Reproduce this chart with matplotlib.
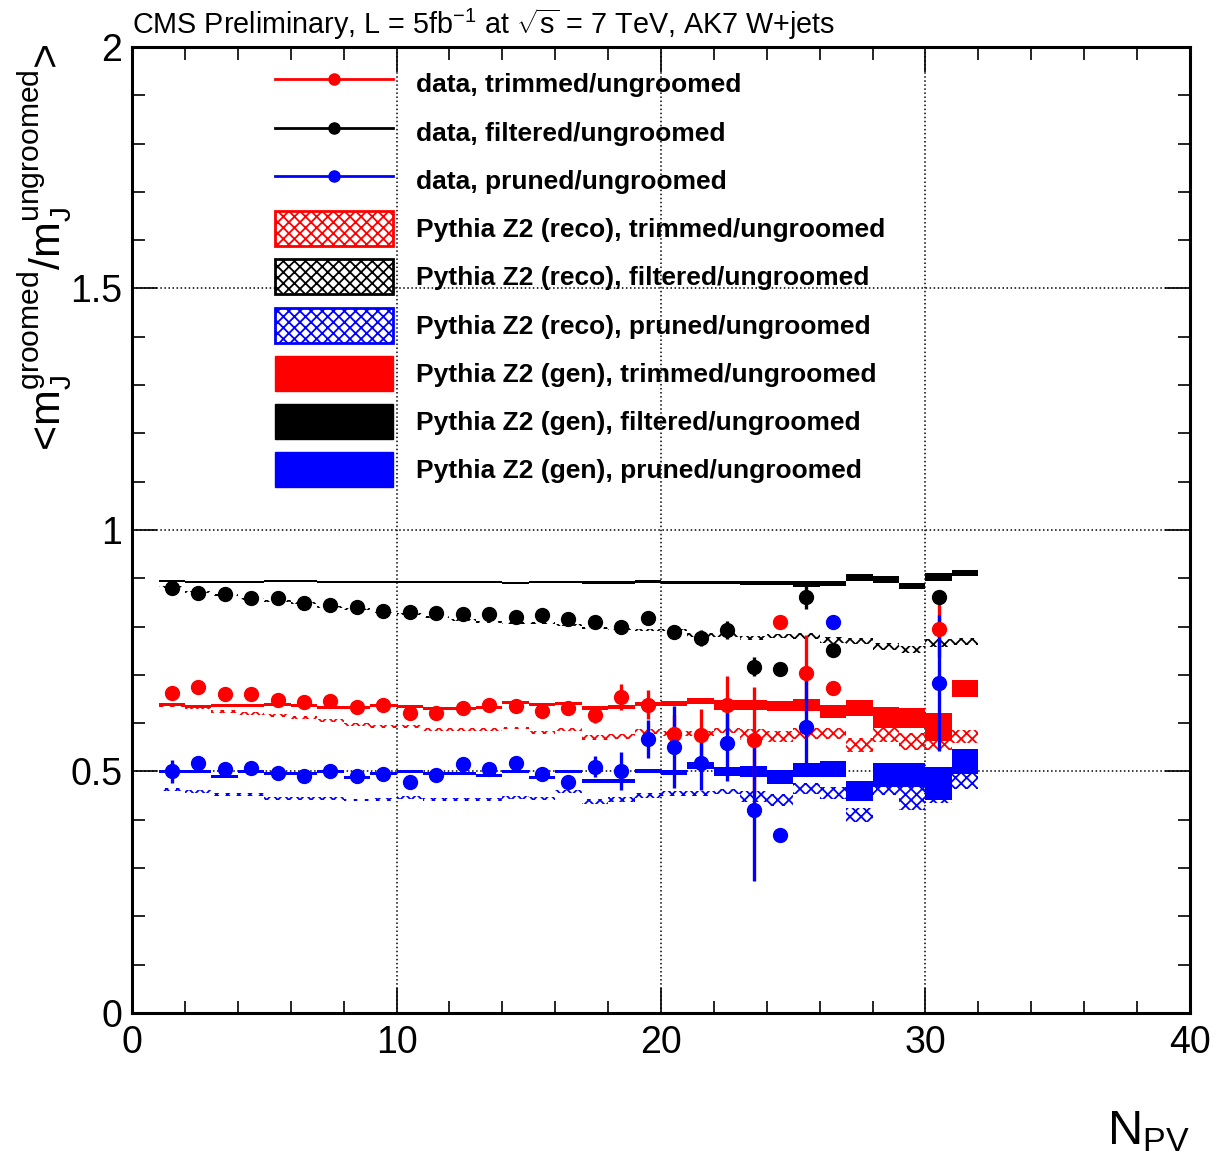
import numpy as np
import matplotlib
matplotlib.use("Agg")
import matplotlib.pyplot as plt
from matplotlib.lines import Line2D
from matplotlib.patches import Patch

# -----------------------------------------
# groomed / ungroomed jet mass vs N_PV
# -----------------------------------------
bin_lo = np.arange(1, 32)          # bins [1,2) ... [31,32)
bin_mid = bin_lo + 0.5

# data (NaN = empty bin)
data_trim = [0.662, 0.674, 0.660, 0.660, 0.648, 0.643, 0.645, 0.634, 0.638, 0.622,
             0.621, 0.631, 0.638, 0.636, 0.626, 0.631, 0.617, 0.655, 0.638, 0.577,
             0.576, 0.638, 0.565, 0.810, 0.703, 0.672, np.nan, np.nan, np.nan, 0.796, np.nan]
data_trim_err = [0.010, 0.006, 0.006, 0.006, 0.006, 0.006, 0.006, 0.006, 0.006, 0.006,
                 0.006, 0.006, 0.006, 0.006, 0.008, 0.008, 0.017, 0.027, 0.030, 0.040,
                 0.053, 0.060, 0.110, 0.0, 0.080, 0.0, np.nan, np.nan, np.nan, 0.060, np.nan]

data_filt = [0.879, 0.869, 0.867, 0.860, 0.859, 0.848, 0.845, 0.840, 0.833, 0.830,
             0.829, 0.826, 0.827, 0.820, 0.824, 0.815, 0.810, 0.800, 0.817, 0.789,
             0.776, 0.793, 0.717, 0.712, 0.862, 0.752, np.nan, np.nan, np.nan, 0.861, np.nan]
data_filt_err = [0.004, 0.004, 0.004, 0.004, 0.004, 0.004, 0.004, 0.004, 0.004, 0.004,
                 0.004, 0.004, 0.005, 0.005, 0.005, 0.006, 0.006, 0.008, 0.008, 0.010,
                 0.017, 0.018, 0.020, 0.0, 0.025, 0.0, np.nan, np.nan, np.nan, 0.010, np.nan]

data_prun = [0.500, 0.517, 0.505, 0.507, 0.496, 0.491, 0.501, 0.491, 0.495, 0.479,
             0.493, 0.516, 0.505, 0.518, 0.495, 0.479, 0.510, 0.501, 0.567, 0.551,
             0.517, 0.560, 0.420, 0.369, 0.593, 0.810, np.nan, np.nan, np.nan, 0.683, np.nan]
data_prun_err = [0.023, 0.006, 0.006, 0.006, 0.006, 0.006, 0.006, 0.006, 0.006, 0.006,
                 0.006, 0.006, 0.006, 0.006, 0.012, 0.008, 0.022, 0.040, 0.040, 0.085,
                 0.055, 0.080, 0.147, 0.0, 0.100, 0.0, np.nan, np.nan, np.nan, 0.140, np.nan]

# Pythia Z2 reco level
reco_trim = [0.636, 0.633, 0.624, 0.620, 0.615, 0.611, 0.605, 0.598, 0.593, 0.594,
             0.586, 0.586, 0.587, 0.590, 0.580, 0.586, 0.571, 0.572, 0.582, 0.579,
             0.579, 0.584, 0.576, 0.572, 0.579, 0.579, 0.555, 0.576, 0.562, 0.562, 0.572]
reco_trim_err = [0.003] * 16 + [0.005] * 6 + [0.011] * 4 + [0.015, 0.015, 0.017, 0.017, 0.014]

reco_filt = [0.882, 0.872, 0.866, 0.858, 0.852, 0.848, 0.841, 0.836, 0.831, 0.827,
             0.820, 0.814, 0.810, 0.808, 0.807, 0.803, 0.797, 0.795, 0.793, 0.793,
             0.783, 0.783, 0.776, 0.781, 0.781, 0.772, 0.770, 0.758, 0.752, 0.766, 0.769]
reco_filt_err = [0.002] * 16 + [0.003] * 4 + [0.004] * 4 + [0.006, 0.006, 0.007, 0.007, 0.007, 0.008, 0.007]

reco_prun = [0.463, 0.458, 0.453, 0.453, 0.444, 0.444, 0.444, 0.441, 0.442, 0.446,
             0.442, 0.442, 0.442, 0.446, 0.444, 0.458, 0.438, 0.442, 0.451, 0.455,
             0.455, 0.458, 0.448, 0.441, 0.465, 0.456, 0.410, 0.462, 0.444, 0.455, 0.479]
reco_prun_err = [0.003] * 16 + [0.005] * 6 + [0.012] * 4 + [0.015, 0.010, 0.024, 0.020, 0.015]

# Pythia Z2 gen level
gen_trim = [0.638, 0.634, 0.636, 0.636, 0.638, 0.636, 0.632, 0.632, 0.636, 0.634,
            0.631, 0.631, 0.633, 0.642, 0.638, 0.640, 0.631, 0.634, 0.640, 0.641,
            0.646, 0.638, 0.638, 0.636, 0.638, 0.624, 0.631, 0.612, 0.610, 0.593, 0.672]
gen_trim_err = [0.003] * 16 + [0.004, 0.004, 0.004, 0.005, 0.007, 0.010, 0.010, 0.010,
                               0.012, 0.014, 0.016, 0.021, 0.021, 0.029, 0.017]

gen_filt = [0.895, 0.893, 0.893, 0.893, 0.894, 0.894, 0.893, 0.893, 0.893, 0.893,
            0.892, 0.893, 0.892, 0.891, 0.892, 0.892, 0.892, 0.892, 0.893, 0.891,
            0.891, 0.891, 0.891, 0.891, 0.888, 0.889, 0.902, 0.898, 0.884, 0.903, 0.911]
gen_filt_err = [0.002] * 16 + [0.003] * 6 + [0.004, 0.004, 0.006, 0.006, 0.007, 0.007, 0.007, 0.008, 0.006]

gen_prun = [0.500, 0.500, 0.489, 0.500, 0.495, 0.495, 0.500, 0.488, 0.496, 0.500,
            0.496, 0.496, 0.491, 0.500, 0.488, 0.500, 0.481, 0.480, 0.501, 0.498,
            0.513, 0.500, 0.500, 0.489, 0.503, 0.505, 0.460, 0.493, 0.493, 0.476, 0.520]
gen_prun_err = [0.003] * 16 + [0.004, 0.004, 0.005, 0.005, 0.007, 0.009, 0.011, 0.014,
                               0.015, 0.017, 0.021, 0.025, 0.025, 0.034, 0.026]

RED, BLACK, BLUE = "#ff0000", "#000000", "#0000ff"
HATCH = "xxx"

plt.rcParams["font.family"] = ["Liberation Sans", "DejaVu Sans"]
plt.rcParams["mathtext.fontset"] = "custom"
plt.rcParams["mathtext.rm"] = "Liberation Sans"
plt.rcParams["mathtext.it"] = "Liberation Sans:italic"
plt.rcParams["mathtext.bf"] = "Liberation Sans:bold"
plt.rcParams["hatch.linewidth"] = 1.3

fig = plt.figure(figsize=(12.16, 11.51), dpi=100)
ax = fig.add_axes([0.1086, 0.1199, 0.8700, 0.8393])


def draw_band(vals, errs, color, hatched):
    v = np.asarray(vals)
    e = np.asarray(errs)
    if hatched:
        ax.bar(bin_lo, 2 * e, bottom=v - e, width=1.0, align="edge",
               fill=False, hatch=HATCH, edgecolor=color, linewidth=0, zorder=2)
    else:
        ax.bar(bin_lo, 2 * e, bottom=v - e, width=1.0, align="edge",
               color=color, linewidth=0, zorder=3)


# reco (hatched) first, gen boxes on top
draw_band(reco_trim, reco_trim_err, RED, True)
draw_band(reco_filt, reco_filt_err, BLACK, True)
draw_band(reco_prun, reco_prun_err, BLUE, True)
draw_band(gen_trim, gen_trim_err, RED, False)
draw_band(gen_filt, gen_filt_err, BLACK, False)
draw_band(gen_prun, gen_prun_err, BLUE, False)

for vals, errs, color in [(data_trim, data_trim_err, RED),
                          (data_filt, data_filt_err, BLACK),
                          (data_prun, data_prun_err, BLUE)]:
    ax.errorbar(bin_mid, vals, yerr=errs, fmt="o", color=color, ms=10,
                elinewidth=2.4, capsize=0, zorder=4)

ax.set_xlim(0, 40)
ax.set_ylim(0, 2)
ax.set_xticks([0, 10, 20, 30, 40])
ax.set_xticks(np.arange(0, 41, 2), minor=True)
ax.set_yticks([0, 0.5, 1, 1.5, 2])
ax.set_yticklabels(["0", "0.5", "1", "1.5", "2"])
ax.set_yticks(np.arange(0, 2.01, 0.1), minor=True)
ax.tick_params(which="both", direction="in", top=True, right=True, width=1.2,
               labelsize=27)
ax.tick_params(which="major", length=18)
ax.tick_params(which="minor", length=9)
ax.tick_params(axis="x", pad=9)
ax.tick_params(axis="y", pad=7)
ax.grid(True, which="major", linestyle=":", color="black", linewidth=1.1)
ax.set_axisbelow(True)
for sp in ax.spines.values():
    sp.set_linewidth(2.2)

ax.set_ylabel(r"<$\mathrm{m}_{\mathrm{J}}^{\mathrm{groomed}}$/$\mathrm{m}_{\mathrm{J}}^{\mathrm{ungroomed}}$>",
              fontsize=31, loc="top")
ax.yaxis.set_label_coords(-0.054, 1.004)
ax.set_xlabel(r"N$_{\mathrm{PV}}$", fontsize=35, loc="right", labelpad=34)

fig.text(0.1086, 0.9705,
         r"CMS Preliminary, L = 5fb$^{\mathrm{-1}}$ at $\sqrt{\mathrm{s}}$ = 7 TeV, AK7 W+jets",
         fontsize=20.7, ha="left", va="baseline")

handles = [
    Line2D([], [], color=RED, marker="o", ms=8, lw=2),
    Line2D([], [], color=BLACK, marker="o", ms=8, lw=2),
    Line2D([], [], color=BLUE, marker="o", ms=8, lw=2),
    Patch(facecolor="white", edgecolor=RED, hatch=HATCH, linewidth=2),
    Patch(facecolor="white", edgecolor=BLACK, hatch=HATCH, linewidth=2),
    Patch(facecolor="white", edgecolor=BLUE, hatch=HATCH, linewidth=2),
    Patch(facecolor=RED, edgecolor=RED, linewidth=1),
    Patch(facecolor=BLACK, edgecolor=BLACK, linewidth=1),
    Patch(facecolor=BLUE, edgecolor=BLUE, linewidth=1),
]
labels = [
    "data, trimmed/ungroomed",
    "data, filtered/ungroomed",
    "data, pruned/ungroomed",
    "Pythia Z2 (reco), trimmed/ungroomed",
    "Pythia Z2 (reco), filtered/ungroomed",
    "Pythia Z2 (reco), pruned/ungroomed",
    "Pythia Z2 (gen), trimmed/ungroomed",
    "Pythia Z2 (gen), filtered/ungroomed",
    "Pythia Z2 (gen), pruned/ungroomed",
]
leg = ax.legend(handles, labels, loc="upper left", bbox_to_anchor=(0.135, 0.980),
                frameon=False, borderpad=0, borderaxespad=0,
                prop={"weight": "bold", "size": 19},
                handlelength=4.47, handleheight=1.66, handletextpad=0.87,
                labelspacing=0.505)

fig.savefig("out.png", dpi=100)
